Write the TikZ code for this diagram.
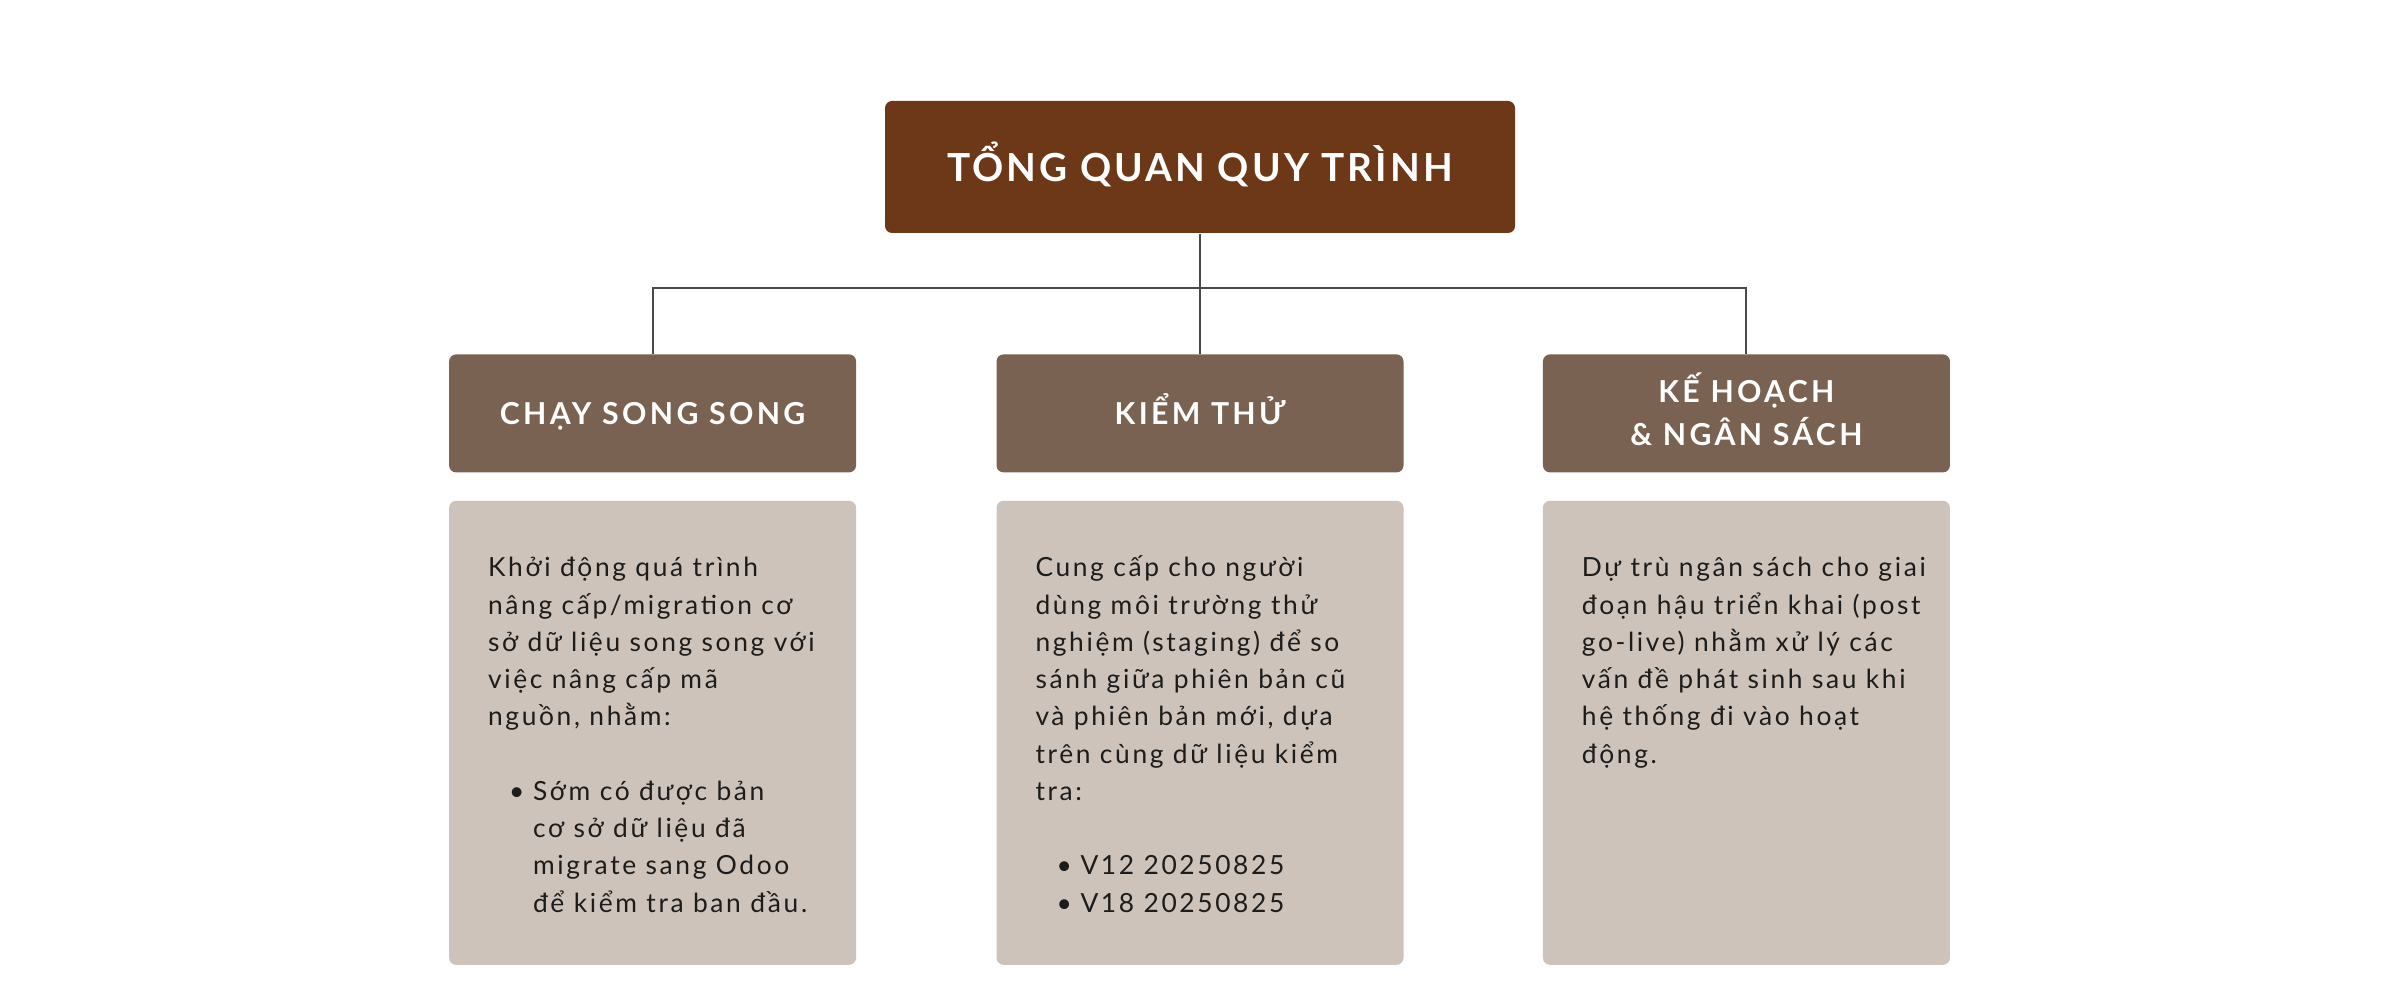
\documentclass[tikz,border=0pt]{standalone}
\usepackage{fontspec}
\setmainfont{Lato}
\newfontfamily\bodyfont[LetterSpace=10]{Lato}
\newfontfamily\headfont[LetterSpace=11]{Lato}
\newfontfamily\titlefont[LetterSpace=8]{Lato}
\usepackage{xcolor}
\usetikzlibrary{positioning,calc}

\definecolor{titlebrown}{HTML}{6C3817}
\definecolor{headbrown}{HTML}{7A6252}
\definecolor{bodybeige}{HTML}{CEC3BA}
\definecolor{linegray}{HTML}{4A4A4A}
\definecolor{inkblack}{HTML}{1C1C1C}

\newcommand{\bulletline}[1]{\hspace*{0.21cm}\makebox[0.24cm][l]{\textbullet}#1}
\newcommand{\bulletcont}[1]{\hspace*{0.45cm}#1}
\newcommand{\bodytext}[1]{\parbox[c][4.64cm][t]{4.07cm}{\raggedright\leftskip=0.39cm\vspace*{0.50cm}\strut#1}}

\begin{document}
\begin{tikzpicture}[
    node distance=1.20cm and 1.39cm,
    titlebox/.style={rectangle, rounded corners=0.07cm, fill=titlebrown, text=white, minimum width=6.30cm, minimum height=1.32cm, align=center, text height=8pt, text depth=0pt, font=\titlefont\bfseries\fontsize{11}{13}\selectfont},
    headbox/.style={rectangle, rounded corners=0.07cm, fill=headbrown, text=white, minimum width=4.07cm, minimum height=1.18cm, align=center, text height=6.2pt, text depth=0pt, font=\headfont\bfseries\fontsize{8.6}{12.2}\selectfont},
    bodybox/.style={rectangle, rounded corners=0.07cm, fill=bodybeige, text=inkblack, inner sep=0pt, font=\bodyfont\fontsize{7.5}{10.6}\selectfont},
    link/.style={draw=linegray, line width=0.55pt},
]
\useasboundingbox (0,0) rectangle (24,9.96);

% Top: overview
\node[titlebox] (overview) at (12.0,8.29) {TỔNG QUAN QUY TRÌNH};

% Headers
\node[headbox, below=1.20cm of overview] (testing) {KIỂM THỬ};
\node[headbox, left=1.39cm of testing] (parallel) {CHẠY SONG SONG};
\node[headbox, right=1.38cm of testing, text height=18.4pt] (budget) {KẾ HOẠCH\\\& NGÂN SÁCH};

% Body boxes
\node[bodybox, below=0.27cm of parallel] (parallel_body) {\bodytext{%
    Khởi động quá trình\\
    nâng cấp/migration cơ\\
    sở dữ liệu song song với\\
    việc nâng cấp mã\\
    nguồn, nhằm:\\[10.6pt]
    \bulletline{Sớm có được bản}\\
    \bulletcont{cơ sở dữ liệu đã}\\
    \bulletcont{migrate sang Odoo}\\
    \bulletcont{để kiểm tra ban đầu.}}};

\node[bodybox, below=0.27cm of testing] (testing_body) {\bodytext{%
    Cung cấp cho người\\
    dùng môi trường thử\\
    nghiệm (staging) để so\\
    sánh giữa phiên bản cũ\\
    và phiên bản mới, dựa\\
    trên cùng dữ liệu kiểm\\
    tra:\\[10.6pt]
    \bulletline{V12 20250825}\\
    \bulletline{V18 20250825}}};

\node[bodybox, below=0.27cm of budget] (budget_body) {\bodytext{%
    Dự trù ngân sách cho giai\\
    đoạn hậu triển khai (post\\
    go-live) nhằm xử lý các\\
    vấn đề phát sinh sau khi\\
    hệ thống đi vào hoạt\\
    động.}};

% Connectors
\coordinate[below=0.54cm of overview.south] (bus);
\draw[link] (overview) -- (testing);
\draw[link] (parallel.north) |- (bus) -| (budget.north);

\end{tikzpicture}
\end{document}
